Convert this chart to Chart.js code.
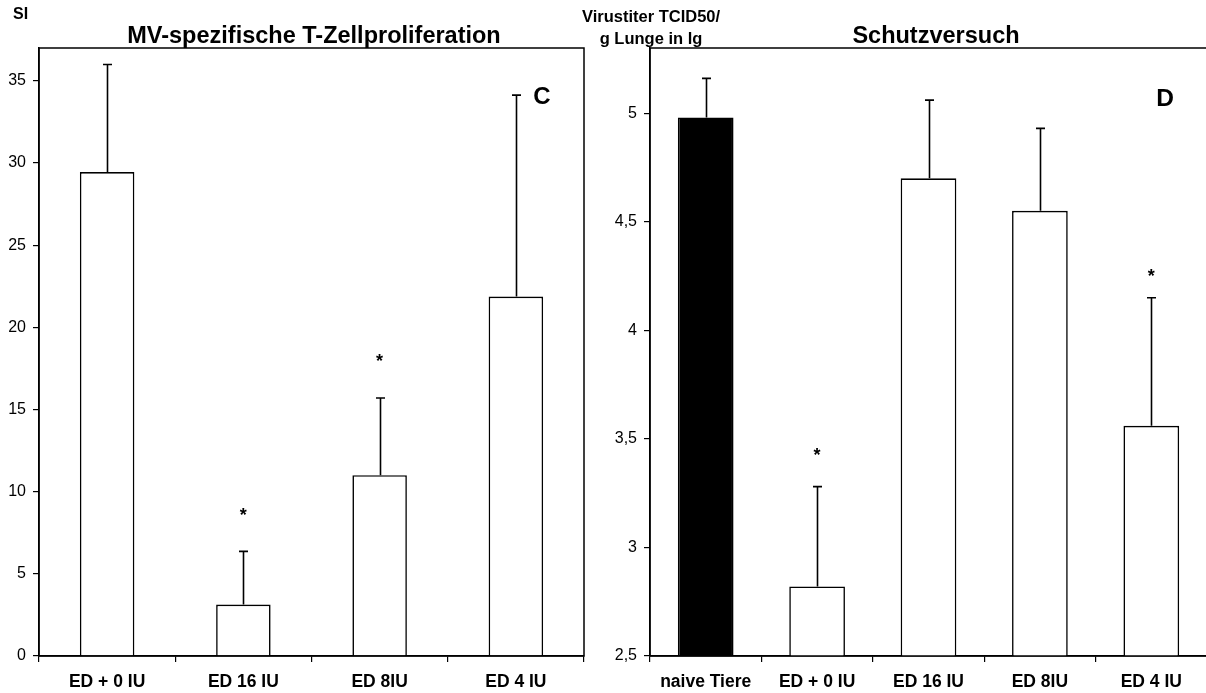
<!DOCTYPE html>
<html>
<head>
<meta charset="utf-8">
<script src="https://cdn.jsdelivr.net/npm/chart.js@4/dist/chart.umd.min.js"></script>
<style>
  html, body { margin: 0; padding: 0; background: #fff; overflow: hidden; width: 1206px; height: 693px; }
  canvas { position: absolute; top: 0; }
  #leftChart { left: 0; }
  #rightChart { left: 560px; }
</style>
</head>
<body>
<canvas id="leftChart" width="600" height="693"></canvas>
<canvas id="rightChart" width="660" height="693"></canvas>
<script>
// Panel C: MV-spezifische T-Zellproliferation
const leftLabels = ['ED + 0 IU', 'ED 16 IU', 'ED 8IU', 'ED 4 IU'];
const leftValues = [29.45, 3.13, 11.0, 21.87];
const leftErrTop = [36.0, 6.37, 15.7, 34.13];
const leftStars = [null, 8.8, 18.2, null];
const leftTicks = [0, 5, 10, 15, 20, 25, 30, 35];

// Panel D: Schutzversuch
const rightLabels = ['naive Tiere', 'ED + 0 IU', 'ED 16 IU', 'ED 8IU', 'ED 4 IU'];
const rightValues = [4.98, 2.82, 4.70, 4.55, 3.56];
const rightErrTop = [5.16, 3.28, 5.06, 4.93, 4.15];
const rightStars = [null, 3.445, null, null, 4.27];
const rightTicks = [2.5, 3, 3.5, 4, 4.5, 5];
const rightFill = ['#000', '#fff', '#fff', '#fff', '#fff'];

const FONT = "'Liberation Sans', Arial, Helvetica, sans-serif";

// error bars (upper only) + significance stars
const errorBarPlugin = {
    id: 'errorBars',
    afterDatasetsDraw(chart, args, opts) {
        const ctx = chart.ctx;
        const x = chart.scales.x, y = chart.scales.y;
        ctx.save();
        ctx.strokeStyle = '#000';
        ctx.lineWidth = 1.6;
        opts.values.forEach((v, i) => {
            const px = Math.round(x.getPixelForValue(i)) + 0.5;
            const y0 = y.getPixelForValue(v);
            const y1 = y.getPixelForValue(opts.top[i]);
            ctx.beginPath();
            ctx.moveTo(px, y0);
            ctx.lineTo(px, y1);
            ctx.moveTo(px - 4.5, y1);
            ctx.lineTo(px + 4.5, y1);
            ctx.stroke();
        });
        ctx.fillStyle = '#000';
        ctx.font = 'bold 18px ' + FONT;
        ctx.textAlign = 'center';
        ctx.textBaseline = 'alphabetic';
        opts.stars.forEach((s, i) => {
            if (s === null) return;
            const px = x.getPixelForValue(i);
            ctx.fillText('*', px, y.getPixelForValue(s) + 10);
        });
        ctx.restore();
    }
};

// plot box and free texts
const framePlugin = {
    id: 'frame',
    afterDraw(chart, args, opts) {
        const ctx = chart.ctx;
        const a = chart.chartArea;
        ctx.save();
        ctx.strokeStyle = '#000';
        ctx.lineWidth = 1.5;
        ctx.strokeRect(a.left, a.top, a.right - a.left, a.bottom - a.top);
        ctx.fillStyle = '#000';
        ctx.textBaseline = 'middle';
        opts.texts.forEach(t => {
            ctx.font = t.font + ' ' + FONT;
            ctx.textAlign = t.align || 'center';
            ctx.fillText(t.text, t.x, t.y);
        });
        ctx.restore();
    }
};

function makeChart(id, labels, values, errTop, stars, ticks, fill, opt) {
    return new Chart(document.getElementById(id), {
        type: 'bar',
        data: {
            labels: labels,
            datasets: [{
                data: values,
                backgroundColor: fill,
                borderColor: '#000',
                borderWidth: 1.6,
                borderSkipped: 'bottom',
                categoryPercentage: 1,
                barPercentage: opt.barPct
            }]
        },
        options: {
            responsive: false,
            animation: false,
            events: [],
            layout: { padding: { top: 48, right: opt.padRight, left: 0, bottom: 0 } },
            scales: {
                x: {
                    grid: { display: true, drawOnChartArea: false, offset: true, tickLength: 6, color: '#000', lineWidth: 1.2 },
                    border: { display: true, color: '#000', width: 1.5 },
                    ticks: {
                        color: '#000', padding: 10, maxRotation: 0, autoSkip: false,
                        font: { family: FONT, size: 17.5, weight: 'bold' }
                    },
                    afterFit(scale) { scale.height = 37; }
                },
                y: {
                    min: opt.min,
                    max: opt.max,
                    grid: { display: true, drawOnChartArea: false, tickLength: 6, color: '#000', lineWidth: 1.2 },
                    border: { display: true, color: '#000', width: 1.5 },
                    afterBuildTicks(scale) { scale.ticks = ticks.map(v => ({ value: v })); },
                    ticks: {
                        color: '#000', padding: 7,
                        font: { family: FONT, size: 16 },
                        callback: v => String(v).replace('.', ',')
                    },
                    afterFit(scale) { scale.width = opt.axisWidth; }
                }
            },
            plugins: {
                legend: { display: false },
                tooltip: { enabled: false },
                errorBars: { values: values, top: errTop, stars: stars },
                frame: { texts: opt.texts }
            }
        },
        plugins: [errorBarPlugin, framePlugin]
    });
}

makeChart('leftChart', leftLabels, leftValues, leftErrTop, leftStars, leftTicks, '#fff', {
    min: 0, max: 37, barPct: 0.4, padRight: 16, axisWidth: 39,
    texts: [
        { text: 'SI', x: 13, y: 15, font: 'bold 16px', align: 'left' },
        { text: 'MV-spezifische T-Zellproliferation', x: 314, y: 37, font: 'bold 23.5px' },
        { text: 'C', x: 542, y: 97, font: 'bold 24px' }
    ]
});

makeChart('rightChart', rightLabels, rightValues, rightErrTop, rightStars, rightTicks, rightFill, {
    min: 2.5, max: 5.3, barPct: 0.5, padRight: 13, axisWidth: 90,
    texts: [
        { text: 'Virustiter TCID50/', x: 91, y: 17, font: 'bold 16.5px' },
        { text: 'g Lunge in lg', x: 91, y: 39, font: 'bold 16.5px' },
        { text: 'Schutzversuch', x: 376, y: 37, font: 'bold 23.5px' },
        { text: 'D', x: 605, y: 99, font: 'bold 24.5px' }
    ]
});
</script>
</body>
</html>
